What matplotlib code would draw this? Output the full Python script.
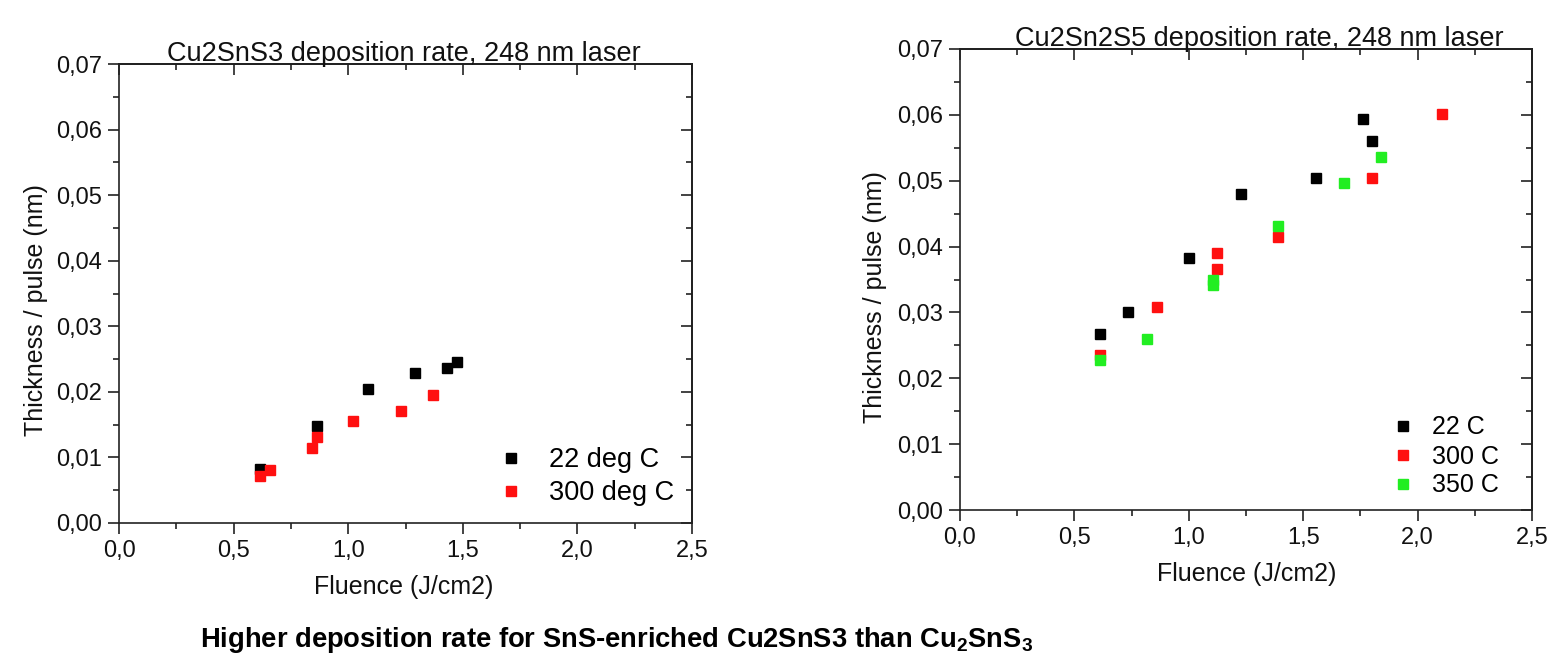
import matplotlib
matplotlib.use("Agg")
import matplotlib.pyplot as plt
from matplotlib.ticker import MultipleLocator, FuncFormatter

plt.rcParams['font.family'] = ['Liberation Sans', 'DejaVu Sans']
plt.rcParams['mathtext.fontset'] = 'custom'
plt.rcParams['mathtext.rm'] = 'Liberation Sans:bold'
plt.rcParams['mathtext.bf'] = 'Liberation Sans:bold'
plt.rcParams['mathtext.default'] = 'rm'

# ---- data: left panel (Cu2SnS3) ----
cts_22_x = [0.614, 0.862, 1.086, 1.292, 1.433, 1.476]
cts_22_y = [0.0082, 0.0148, 0.0204, 0.0228, 0.0236, 0.0245]
cts_300_x = [0.614, 0.657, 0.842, 0.862, 1.023, 1.230, 1.370]
cts_300_y = [0.0072, 0.0081, 0.0114, 0.0131, 0.0156, 0.0171, 0.0195]

# ---- data: right panel (Cu2Sn2S5) ----
c225_22_x = [0.614, 0.735, 1.002, 1.229, 1.556, 1.761, 1.800]
c225_22_y = [0.0268, 0.0300, 0.0382, 0.0480, 0.0504, 0.0593, 0.0560]
c225_300_x = [0.614, 0.860, 1.125, 1.125, 1.392, 1.800, 2.108]
c225_300_y = [0.0236, 0.0309, 0.0390, 0.0366, 0.0415, 0.0504, 0.0601]
c225_350_x = [0.614, 0.819, 1.106, 1.106, 1.392, 1.677, 1.841]
c225_350_y = [0.0228, 0.0260, 0.0350, 0.0342, 0.0431, 0.0496, 0.0536]

left_labels = ["22 deg C", "300 deg C"]
right_labels = ["22 C", "300 C", "350 C"]
left_title = "Cu2SnS3 deposition rate, 248 nm laser"
right_title = "Cu2Sn2S5 deposition rate, 248 nm laser"
xlabel = "Fluence (J/cm2)"
ylabel = "Thickness / pulse (nm)"
caption = "Higher deposition rate for SnS-enriched Cu2SnS3 than Cu$_2$SnS$_3$"

BLACK = "#000000"
RED = "#ff1010"
GREEN = "#22ee22"
TXT = "#111111"

W, H = 1549, 662
fig = plt.figure(figsize=(W / 100, H / 100), dpi=100)


def fx(px):
    return px / W


def fy(py):
    return 1 - py / H


def style(ax):
    ax.set_xlim(0, 2.5)
    ax.set_ylim(0, 0.07)
    ax.xaxis.set_major_locator(MultipleLocator(0.5))
    ax.xaxis.set_minor_locator(MultipleLocator(0.25))
    ax.yaxis.set_major_locator(MultipleLocator(0.01))
    ax.yaxis.set_minor_locator(MultipleLocator(0.005))
    ax.xaxis.set_major_formatter(FuncFormatter(lambda v, p: f"{v:.1f}".replace('.', ',')))
    ax.yaxis.set_major_formatter(FuncFormatter(lambda v, p: f"{v:.2f}".replace('.', ',')))
    for s in ax.spines.values():
        s.set_linewidth(1.2)
        s.set_color("#222222")
    ax.tick_params(which='both', direction='out', width=1.2, color="#222222",
                   labelsize=17, labelcolor=TXT, pad=4)
    ax.tick_params(which='major', length=8)
    ax.tick_params(which='minor', length=4)
    top = ax.secondary_xaxis('top')
    top.xaxis.set_major_locator(MultipleLocator(0.5))
    top.xaxis.set_minor_locator(MultipleLocator(0.25))
    top.tick_params(which='both', direction='in', labeltop=False, width=1.2, color="#222222")
    top.tick_params(which='major', length=8)
    top.tick_params(which='minor', length=4)
    top.spines['top'].set_linewidth(1.2)
    right = ax.secondary_yaxis('right')
    right.yaxis.set_major_locator(MultipleLocator(0.01))
    right.yaxis.set_minor_locator(MultipleLocator(0.005))
    right.tick_params(which='both', direction='in', labelright=False, width=1.2, color="#222222")
    right.tick_params(which='major', length=8)
    right.tick_params(which='minor', length=4)
    right.spines['right'].set_linewidth(1.2)


ms = 7.8
# ---- left panel ----
axL = fig.add_axes([fx(119), fy(523), fx(692 - 119), (523 - 64) / H])
style(axL)
axL.plot(cts_22_x, cts_22_y, 's', color=BLACK, ms=ms, mec=BLACK, label=left_labels[0], clip_on=False)
axL.plot(cts_300_x, cts_300_y, 's', color=RED, ms=ms, mec=RED, label=left_labels[1], clip_on=False)
axL.legend(loc='upper left', bbox_to_anchor=(fx(497.5), fy(447)), bbox_transform=fig.transFigure,
           frameon=False, fontsize=19.5, handlelength=1.0, handletextpad=0.9, labelspacing=0.26,
           borderpad=0, borderaxespad=0, markerscale=1.0)
fig.text(fx(404), fy(54), left_title, ha='center', va='center', fontsize=19.5, color=TXT)
fig.text(fx(404), fy(587), xlabel, ha='center', va='center', fontsize=18, color=TXT)
fig.text(fx(36), fy(310), ylabel, ha='center', va='center', rotation=90, fontsize=18, color=TXT)

# ---- right panel ----
axR = fig.add_axes([fx(960), fy(510), fx(1532 - 960), (510 - 49) / H])
style(axR)
axR.plot(c225_22_x, c225_22_y, 's', color=BLACK, ms=ms, mec=BLACK, label=right_labels[0], clip_on=False)
axR.plot(c225_300_x, c225_300_y, 's', color=RED, ms=ms, mec=RED, label=right_labels[1], clip_on=False)
axR.plot(c225_350_x, c225_350_y, 's', color=GREEN, ms=ms, mec=GREEN, label=right_labels[2], clip_on=False)
axR.legend(loc='upper left', bbox_to_anchor=(fx(1390.5), fy(415.5)), bbox_transform=fig.transFigure,
           frameon=False, fontsize=18, handlelength=1.0, handletextpad=0.66, labelspacing=0.2,
           borderpad=0, borderaxespad=0, markerscale=1.0)
fig.text(fx(1259), fy(39), right_title, ha='center', va='center', fontsize=19.5, color=TXT)
fig.text(fx(1247), fy(574), xlabel, ha='center', va='center', fontsize=18, color=TXT)
fig.text(fx(875), fy(297), ylabel, ha='center', va='center', rotation=90, fontsize=18, color=TXT)

# ---- caption ----
fig.text(fx(200), fy(640), caption, ha='left', va='center', fontsize=19.7, fontweight='bold', color="#000000")

fig.savefig("out.png", dpi=100)
